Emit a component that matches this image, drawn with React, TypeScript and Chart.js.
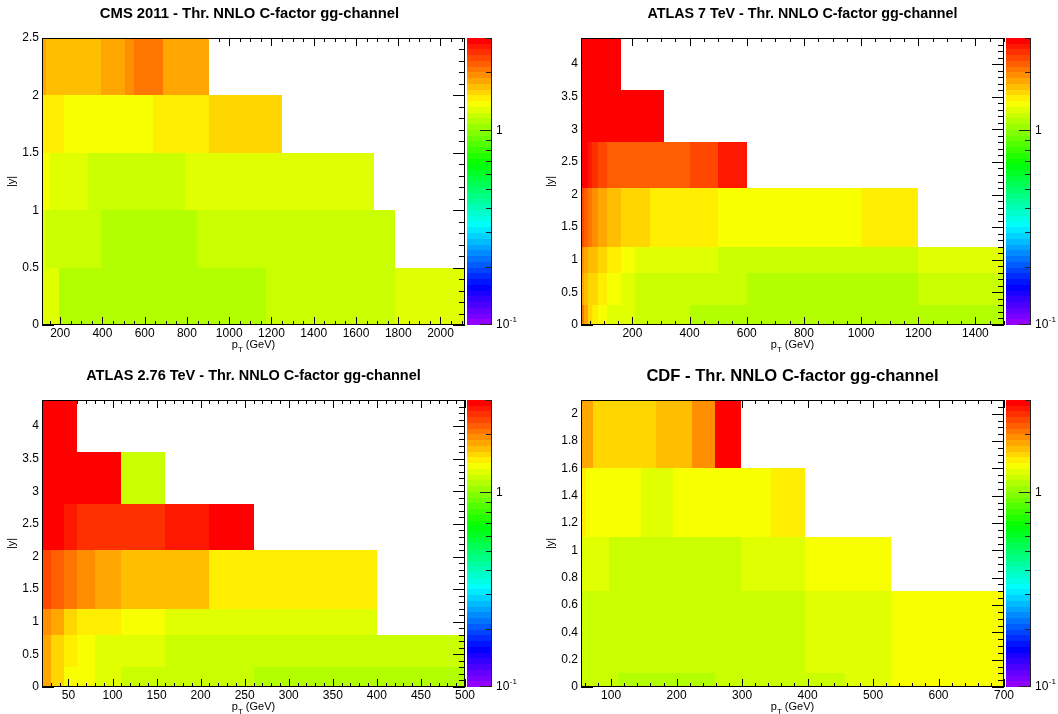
import React, { useEffect, useRef } from "react";
import { Chart, registerables } from "chart.js";

Chart.register(...registerables);

const FONT = '"Liberation Sans", Arial, Helvetica, sans-serif';
const PW = 529;
const PH = 357;

// ---------- colour axis (log scale, ROOT "pretty" palette, 50 contours) ----------
const zMin = 0.1;
const zMax = 3;
const nContours = 50;
const colorMajorTicks = [0.1, 1];
const colorMinorTicks = [0.2, 0.3, 0.4, 0.5, 0.6, 0.7, 0.8, 0.9, 2, 3];

// ---------- CMS 2011 ----------
const cmsTitle = "CMS 2011 - Thr. NNLO C-factor gg-channel";
const cmsXRange = [114, 2116];
const cmsYEdges = [0, 0.5, 1, 1.5, 2, 2.5];
const cmsRowXEdges = [
  [114, 196, 1172, 1784, 2116],
  [114, 133, 395, 846, 1784],
  [114, 153, 330, 790, 1684],
  [114, 220, 638, 905, 1248],
  [114, 133, 395, 507, 548, 686, 905],
];
const cmsRowValues = [
  [1.28, 1.12, 1.2, 1.28],
  [1.28, 1.2, 1.12, 1.2],
  [1.37, 1.28, 1.2, 1.28],
  [1.47, 1.37, 1.47, 1.57],
  [1.8, 1.68, 1.8, 1.93, 2.06, 1.8],
];
const cmsXTicks = [200, 400, 600, 800, 1000, 1200, 1400, 1600, 1800, 2000];
const cmsYTicks = [0, 0.5, 1, 1.5, 2, 2.5];

// ---------- ATLAS 7 TeV ----------
const atlas7Title = "ATLAS 7 TeV - Thr. NNLO C-factor gg-channel";
const atlas7XRange = [20, 1500];
const atlas7YEdges = [0, 0.3, 0.8, 1.2, 2.1, 2.8, 3.6, 4.4];
const atlas7RowXEdges = [
  [20, 30, 45, 60, 80, 110, 210, 400, 1500],
  [20, 30, 45, 80, 110, 160, 210, 600, 1200, 1500],
  [20, 30, 45, 80, 110, 160, 210, 500, 1200, 1500],
  [20, 30, 45, 60, 80, 110, 160, 260, 500, 1000, 1200],
  [20, 45, 60, 80, 110, 400, 500, 600],
  [20, 310],
  [20, 160],
];
const atlas7RowValues = [
  [2.06, 1.8, 1.57, 1.47, 1.37, 1.28, 1.2, 1.12],
  [1.8, 1.68, 1.57, 1.47, 1.37, 1.28, 1.2, 1.12, 1.2],
  [1.93, 1.8, 1.68, 1.57, 1.47, 1.37, 1.28, 1.2, 1.28],
  [2.36, 2.21, 2.06, 1.93, 1.8, 1.68, 1.57, 1.47, 1.37, 1.47],
  [2.9, 2.71, 2.53, 2.36, 2.21, 2.36, 2.71],
  [2.9],
  [2.9],
];
const atlas7XTicks = [200, 400, 600, 800, 1000, 1200, 1400];
const atlas7YTicks = [0, 0.5, 1, 1.5, 2, 2.5, 3, 3.5, 4];

// ---------- ATLAS 2.76 TeV ----------
const atlas276Title = "ATLAS 2.76 TeV - Thr. NNLO C-factor gg-channel";
const atlas276XRange = [20, 500];
const atlas276YEdges = [0, 0.3, 0.8, 1.2, 2.1, 2.8, 3.6, 4.4];
const atlas276RowXEdges = [
  [20, 30, 45, 80, 110, 260, 500],
  [20, 30, 45, 60, 80, 160, 500],
  [20, 30, 45, 60, 110, 160, 400],
  [20, 30, 45, 60, 80, 110, 210, 400],
  [20, 45, 60, 160, 210, 260],
  [20, 110, 160],
  [20, 60],
];
const atlas276RowValues = [
  [1.8, 1.57, 1.37, 1.28, 1.2, 1.12],
  [1.8, 1.57, 1.47, 1.37, 1.28, 1.2],
  [1.93, 1.8, 1.57, 1.47, 1.37, 1.28],
  [2.36, 2.21, 2.06, 1.93, 1.8, 1.68, 1.47],
  [2.9, 2.71, 2.53, 2.71, 2.9],
  [2.9, 1.2],
  [2.9],
];
const atlas276XTicks = [50, 100, 150, 200, 250, 300, 350, 400, 450, 500];
const atlas276YTicks = [0, 0.5, 1, 1.5, 2, 2.5, 3, 3.5, 4];

// ---------- CDF ----------
const cdfTitle = "CDF - Thr. NNLO C-factor gg-channel";
const cdfXRange = [54, 700];
const cdfYEdges = [0, 0.1, 0.7, 1.1, 1.6, 2.1];
const cdfRowXEdges = [
  [54, 110, 259, 457, 527, 700],
  [54, 396, 527, 700],
  [54, 96, 298, 396, 527],
  [54, 62, 146, 195, 344, 396],
  [54, 72, 169, 224, 259, 298],
];
const cdfRowValues = [
  [1.2, 1.12, 1.2, 1.28, 1.37],
  [1.2, 1.28, 1.37],
  [1.28, 1.2, 1.28, 1.37],
  [1.47, 1.37, 1.28, 1.37, 1.47],
  [1.8, 1.57, 1.68, 1.93, 2.9],
];
const cdfXTicks = [100, 200, 300, 400, 500, 600, 700];
const cdfYTicks = [0, 0.2, 0.4, 0.6, 0.8, 1, 1.2, 1.4, 1.6, 1.8, 2];

type PanelDef = {
  title: string;
  titleSize: number;
  titleDx: number;
  ox: number;
  oy: number;
  area: { left: number; top: number; right: number; bottom: number };
  xRange: number[];
  yEdges: number[];
  rowXEdges: number[][];
  rowValues: number[][];
  xTicks: number[];
  yTicks: number[];
  xMinor: number;
  yMinor: number;
};

const panels: PanelDef[] = [
  {
    title: cmsTitle, titleSize: 14.8, titleDx: -4, ox: 0, oy: 0,
    area: { left: 42, top: 38, right: 465, bottom: 325 },
    xRange: cmsXRange, yEdges: cmsYEdges, rowXEdges: cmsRowXEdges, rowValues: cmsRowValues,
    xTicks: cmsXTicks, yTicks: cmsYTicks, xMinor: 50, yMinor: 0.1,
  },
  {
    title: atlas7Title, titleSize: 14.3, titleDx: 10, ox: 529, oy: 0,
    area: { left: 52, top: 38, right: 475, bottom: 325 },
    xRange: atlas7XRange, yEdges: atlas7YEdges, rowXEdges: atlas7RowXEdges, rowValues: atlas7RowValues,
    xTicks: atlas7XTicks, yTicks: atlas7YTicks, xMinor: 50, yMinor: 0.1,
  },
  {
    title: atlas276Title, titleSize: 14.5, titleDx: 0, ox: 0, oy: 357,
    area: { left: 42, top: 43, right: 465, bottom: 330 },
    xRange: atlas276XRange, yEdges: atlas276YEdges, rowXEdges: atlas276RowXEdges, rowValues: atlas276RowValues,
    xTicks: atlas276XTicks, yTicks: atlas276YTicks, xMinor: 10, yMinor: 0.1,
  },
  {
    title: cdfTitle, titleSize: 16.6, titleDx: 0, ox: 529, oy: 357,
    area: { left: 52, top: 43, right: 475, bottom: 330 },
    xRange: cdfXRange, yEdges: cdfYEdges, rowXEdges: cdfRowXEdges, rowValues: cdfRowValues,
    xTicks: cdfXTicks, yTicks: cdfYTicks, xMinor: 20, yMinor: 0.05,
  },
];

function paletteColor(i: number) {
  const hue = 280 - (i + 1) * (280 / nContours);
  return `hsl(${hue}, 100%, 50%)`;
}

function valueColor(v: number) {
  const L = Math.log10(zMax / zMin);
  let i = Math.floor(0.01 + (nContours * Math.log10(v / zMin)) / L);
  i = Math.max(0, Math.min(nContours - 1, i));
  return paletteColor(i);
}

function minorValues(min: number, max: number, step: number, majors: number[]) {
  const out: number[] = [];
  const k0 = Math.ceil(min / step - 1e-9);
  for (let k = k0; k * step <= max + 1e-9; k++) {
    const v = +(k * step).toFixed(6);
    if (!majors.some((m) => Math.abs(m - v) < 1e-6)) out.push(v);
  }
  return out;
}

const X_MAJ = 8, X_MIN = 4, Y_MAJ = 12, Y_MIN = 6;

function makePlugin(p: PanelDef) {
  return {
    id: "heatmap",
    afterDraw(chart: any) {
      const ctx = chart.ctx as CanvasRenderingContext2D;
      const a = chart.chartArea;
      const xs = chart.scales.x;
      const ys = chart.scales.y;
      const zs = chart.scales.z;
      const X = (v: number) => Math.round(xs.getPixelForValue(v));
      const Y = (v: number) => Math.round(ys.getPixelForValue(v));
      const yMinV = p.yEdges[0];
      const yMaxV = p.yEdges[p.yEdges.length - 1];
      const xMinors = minorValues(p.xRange[0], p.xRange[1], p.xMinor, p.xTicks);
      const yMinors = minorValues(yMinV, yMaxV, p.yMinor, p.yTicks);

      const line = (x0: number, y0: number, x1: number, y1: number) => {
        ctx.beginPath();
        ctx.moveTo(x0, y0);
        ctx.lineTo(x1, y1);
        ctx.stroke();
      };

      ctx.save();
      ctx.lineWidth = 1;
      ctx.strokeStyle = "#000";

      // top and left ticks (hidden under the cells)
      p.xTicks.forEach((v) => line(X(v) + 0.5, a.top, X(v) + 0.5, a.top + X_MAJ));
      xMinors.forEach((v) => line(X(v) + 0.5, a.top, X(v) + 0.5, a.top + X_MIN));
      p.yTicks.forEach((v) => line(a.left, Y(v) + 0.5, a.left + Y_MAJ, Y(v) + 0.5));
      yMinors.forEach((v) => line(a.left, Y(v) + 0.5, a.left + Y_MIN, Y(v) + 0.5));

      // cells
      p.rowValues.forEach((vals, r) => {
        const edges = p.rowXEdges[r];
        const yt = Y(p.yEdges[r + 1]);
        const yb = Y(p.yEdges[r]);
        vals.forEach((v, c) => {
          const x0 = X(edges[c]);
          const x1 = X(edges[c + 1]);
          ctx.fillStyle = valueColor(v);
          ctx.fillRect(x0, yt, x1 - x0, yb - yt);
        });
      });

      // bottom and right ticks
      p.xTicks.forEach((v) => line(X(v) + 0.5, a.bottom, X(v) + 0.5, a.bottom - X_MAJ));
      xMinors.forEach((v) => line(X(v) + 0.5, a.bottom, X(v) + 0.5, a.bottom - X_MIN));
      p.yTicks.forEach((v) => line(a.right, Y(v) + 0.5, a.right - Y_MAJ, Y(v) + 0.5));
      yMinors.forEach((v) => line(a.right, Y(v) + 0.5, a.right - Y_MIN, Y(v) + 0.5));

      // frame
      ctx.strokeRect(a.left + 0.5, a.top + 0.5, a.right - a.left - 1, a.bottom - a.top - 1);

      // colour bar
      const cbL = a.right + 2;
      const cbR = a.right + 26;
      for (let i = 0; i < nContours; i++) {
        const lo = zMin * Math.pow(zMax / zMin, i / nContours);
        const hi = zMin * Math.pow(zMax / zMin, (i + 1) / nContours);
        const yt = Math.round(zs.getPixelForValue(hi));
        const yb = Math.round(zs.getPixelForValue(lo));
        ctx.fillStyle = paletteColor(i);
        ctx.fillRect(cbL, yt, cbR - cbL, yb - yt);
      }
      ctx.strokeStyle = "#222";
      line(cbR + 0.5, a.top, cbR + 0.5, a.bottom);
      colorMajorTicks.forEach((v) => {
        const y = Math.round(zs.getPixelForValue(v)) - 0.5;
        line(cbR + 1, y, cbR - 11, y);
      });
      colorMinorTicks.forEach((v) => {
        const y = Math.round(zs.getPixelForValue(v)) + 0.5;
        line(cbR + 1, y, cbR - 5, y);
      });

      ctx.fillStyle = "#000";
      ctx.textAlign = "left";
      ctx.textBaseline = "middle";
      ctx.font = `12px ${FONT}`;
      ctx.fillText("1", cbR + 5, zs.getPixelForValue(1));
      const y01 = zs.getPixelForValue(0.1);
      ctx.fillText("10", cbR + 5, y01);
      const w10 = ctx.measureText("10").width;
      ctx.font = `8px ${FONT}`;
      ctx.fillText("-1", cbR + 5 + w10 + 0.5, y01 - 5);

      // title
      const cx = (a.left + a.right) / 2;
      ctx.font = `bold ${p.titleSize}px ${FONT}`;
      ctx.textAlign = "center";
      ctx.fillText(p.title, cx + p.titleDx, a.top - 24);

      // x title: p_T (GeV)
      ctx.textAlign = "left";
      ctx.textBaseline = "alphabetic";
      ctx.font = `11px ${FONT}`;
      const wp = ctx.measureText("p").width;
      const wr = ctx.measureText(" (GeV)").width;
      ctx.font = `8px ${FONT}`;
      const wt = ctx.measureText("T").width;
      const start = cx - (wp + wt + wr) / 2;
      const base = a.bottom + 23;
      ctx.font = `11px ${FONT}`;
      ctx.fillText("p", start, base);
      ctx.font = `8px ${FONT}`;
      ctx.fillText("T", start + wp, base + 4);
      ctx.font = `11px ${FONT}`;
      ctx.fillText(" (GeV)", start + wp + wt, base);

      // y title
      ctx.save();
      ctx.translate(a.left - 30, (a.top + a.bottom) / 2);
      ctx.rotate(-Math.PI / 2);
      ctx.textAlign = "center";
      ctx.textBaseline = "middle";
      ctx.font = `11px ${FONT}`;
      ctx.fillText("|y|", 0, 0);
      ctx.restore();

      ctx.restore();
    },
  };
}

function makeConfig(p: PanelDef): any {
  const Wy = 40;
  const Hx = 22;
  const tickFont = { family: FONT, size: 12 };
  return {
    type: "scatter",
    data: { datasets: [] },
    options: {
      animation: false,
      responsive: false,
      devicePixelRatio: 1,
      events: [],
      layout: {
        padding: {
          left: p.area.left - Wy,
          top: p.area.top,
          right: PW - p.area.right,
          bottom: PH - p.area.bottom - Hx,
        },
      },
      plugins: {
        legend: { display: false },
        tooltip: { enabled: false },
        title: { display: false },
      },
      scales: {
        x: {
          type: "linear",
          position: "bottom",
          min: p.xRange[0],
          max: p.xRange[1],
          grid: { display: false, drawTicks: false },
          border: { display: false },
          ticks: {
            color: "#000",
            font: tickFont,
            padding: 1,
            maxRotation: 0,
            minRotation: 0,
            autoSkip: false,
            callback: (v: number) => String(v),
          },
          afterBuildTicks: (s: any) => {
            s.ticks = p.xTicks.map((v) => ({ value: v }));
          },
          afterFit: (s: any) => {
            s.height = Hx;
          },
        },
        y: {
          type: "linear",
          position: "left",
          min: p.yEdges[0],
          max: p.yEdges[p.yEdges.length - 1],
          grid: { display: false, drawTicks: false },
          border: { display: false },
          ticks: {
            color: "#000",
            font: tickFont,
            padding: 3,
            autoSkip: false,
            callback: (v: number) => String(v),
          },
          afterBuildTicks: (s: any) => {
            s.ticks = p.yTicks.map((v) => ({ value: v }));
          },
          afterFit: (s: any) => {
            s.width = Wy;
          },
        },
        z: {
          type: "logarithmic",
          axis: "y",
          position: "right",
          min: zMin,
          max: zMax,
          display: false,
        },
      },
    },
    plugins: [makePlugin(p)],
  };
}

function Panel({ p }: { p: PanelDef }) {
  const ref = useRef<HTMLCanvasElement>(null);
  useEffect(() => {
    if (!ref.current) return;
    const chart = new Chart(ref.current, makeConfig(p));
    return () => chart.destroy();
  }, [p]);
  return (
    <canvas
      ref={ref}
      width={PW}
      height={PH}
      style={{ position: "absolute", left: p.ox, top: p.oy, width: PW, height: PH }}
    />
  );
}

export default function App() {
  return (
    <div
      style={{
        position: "fixed",
        left: 0,
        top: 0,
        width: 1058,
        height: 714,
        background: "#fff",
        overflow: "hidden",
      }}
    >
      {panels.map((p, i) => (
        <Panel key={i} p={p} />
      ))}
    </div>
  );
}
